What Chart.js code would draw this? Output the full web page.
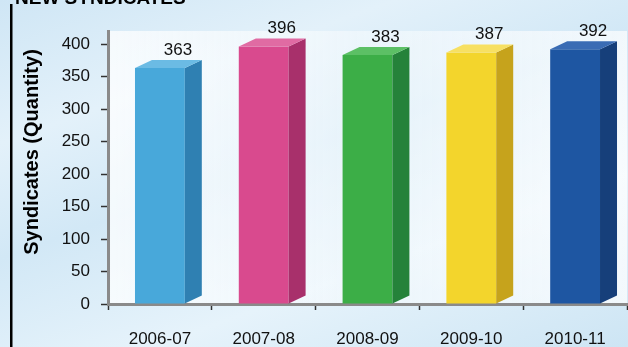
<!DOCTYPE html>
<html lang="en">
<head>
    <meta charset="UTF-8">
    <title>New Syndicates</title>
    <script src="https://cdn.jsdelivr.net/npm/chart.js"></script>
    <style>
        html, body {
            margin: 0;
            padding: 0;
        }
        body {
            width: 628px;
            height: 347px;
            overflow: hidden;
            background: linear-gradient(160deg, #cfe6f5 0%, #e3f1fa 25%, #d2e8f6 45%, #e6f3fb 70%, #cde5f4 100%);
        }
        #wrap {
            position: relative;
            width: 628px;
            height: 347px;
        }
    </style>
</head>
<body>
    <div id="wrap">
        <canvas id="myChart" width="628" height="347"></canvas>
    </div>

    <script>
        // data
        const years = ['2006-07', '2007-08', '2008-09', '2009-10', '2010-11'];
        const syndicates = [363, 396, 383, 387, 392];
        const frontColors = ['#48a8da', '#d94a8e', '#3cae47', '#f3d52c', '#1e56a2'];
        const sideColors = ['#2f80b2', '#a8306b', '#25823a', '#c6a31c', '#163f7a'];
        const topColors = ['#6bbbe4', '#e06ba3', '#5cc065', '#f7e062', '#3a6cb4'];
        const yTicks = [0, 50, 100, 150, 200, 250, 300, 350, 400];

        const FONT = 'Liberation Sans, Arial, sans-serif';
        const DEPTH = 17, RISE = 8;

        // background of plot panel, title, black rule, y title
        const decor = {
            id: 'decor',
            beforeDraw(chart) {
                const { ctx, chartArea: a } = chart;
                ctx.save();
                let g = ctx.createLinearGradient(a.left, 0, a.right, 0);
                g.addColorStop(0, 'rgba(255,255,255,0.75)');
                g.addColorStop(0.5, 'rgba(245,250,253,0.6)');
                g.addColorStop(1, 'rgba(255,255,255,0.7)');
                ctx.fillStyle = g;
                ctx.fillRect(a.left, a.top, a.right - a.left, a.bottom - a.top);

                // black rule on the left
                ctx.fillStyle = '#000';
                ctx.fillRect(10, 4, 2.5, 343);

                // cut-off heading
                ctx.font = 'bold 19px ' + FONT;
                ctx.textBaseline = 'alphabetic';
                ctx.fillText('NEW SYNDICATES', 15, 4);

                // y axis title
                ctx.translate(32, 152);
                ctx.rotate(-Math.PI / 2);
                ctx.font = 'bold 20px ' + FONT;
                ctx.textAlign = 'center';
                ctx.textBaseline = 'middle';
                ctx.fillText('Syndicates (Quantity)', 0, 0);
                ctx.restore();
            }
        };

        // side and top faces of the 3d bars + value labels
        const bars3d = {
            id: 'bars3d',
            afterDatasetsDraw(chart) {
                const { ctx } = chart;
                const meta = chart.getDatasetMeta(0);
                ctx.save();
                meta.data.forEach((bar, i) => {
                    const half = bar.width / 2;
                    const x1 = bar.x - half, x2 = bar.x + half;
                    const yt = bar.y, yb = bar.base;
                    // side
                    ctx.fillStyle = sideColors[i];
                    ctx.beginPath();
                    ctx.moveTo(x2, yt);
                    ctx.lineTo(x2 + DEPTH, yt - RISE);
                    ctx.lineTo(x2 + DEPTH, yb - RISE);
                    ctx.lineTo(x2, yb);
                    ctx.closePath();
                    ctx.fill();
                    // top
                    ctx.fillStyle = topColors[i];
                    ctx.beginPath();
                    ctx.moveTo(x1, yt);
                    ctx.lineTo(x1 + DEPTH, yt - RISE);
                    ctx.lineTo(x2 + DEPTH, yt - RISE);
                    ctx.lineTo(x2, yt);
                    ctx.closePath();
                    ctx.fill();
                    // value
                    ctx.fillStyle = '#111';
                    ctx.font = '17px ' + FONT;
                    ctx.textAlign = 'center';
                    ctx.textBaseline = 'middle';
                    ctx.fillText(String(syndicates[i]), bar.x + 18, yt - 18);
                });
                ctx.restore();
            }
        };

        let ctx = document.getElementById('myChart').getContext('2d');
        let myChart = new Chart(ctx, {
            type: 'bar',
            data: {
                labels: years,
                datasets: [{
                    label: 'Syndicates',
                    data: syndicates,
                    backgroundColor: frontColors,
                    borderWidth: 0,
                    barPercentage: 0.48,
                    categoryPercentage: 1
                }]
            },
            options: {
                responsive: false,
                animation: false,
                layout: { padding: { top: 31, right: 1, left: 0, bottom: 0 } },
                plugins: {
                    legend: { display: false },
                    tooltip: { enabled: false }
                },
                scales: {
                    x: {
                        grid: {
                            offset: true,
                            drawOnChartArea: false,
                            tickLength: 6,
                            tickWidth: 1.5,
                            tickColor: '#333'
                        },
                        border: { color: '#8a8a8a', width: 3 },
                        ticks: {
                            color: '#111',
                            font: { family: FONT, size: 17 },
                            padding: 19,
                            maxRotation: 0
                        },
                        afterFit(scale) { scale.height = 43; }
                    },
                    y: {
                        min: 0,
                        max: 420,
                        grid: {
                            drawOnChartArea: false,
                            tickLength: 7,
                            tickWidth: 1.5,
                            tickColor: '#333'
                        },
                        border: { color: '#8a8a8a', width: 3 },
                        ticks: {
                            stepSize: 50,
                            color: '#111',
                            font: { family: FONT, size: 17 },
                            padding: 11
                        },
                        afterBuildTicks(scale) {
                            scale.ticks = yTicks.map(v => ({ value: v }));
                        },
                        afterFit(scale) { scale.width = 108; }
                    }
                }
            },
            plugins: [decor, bars3d]
        });
    </script>
</body>
</html>
